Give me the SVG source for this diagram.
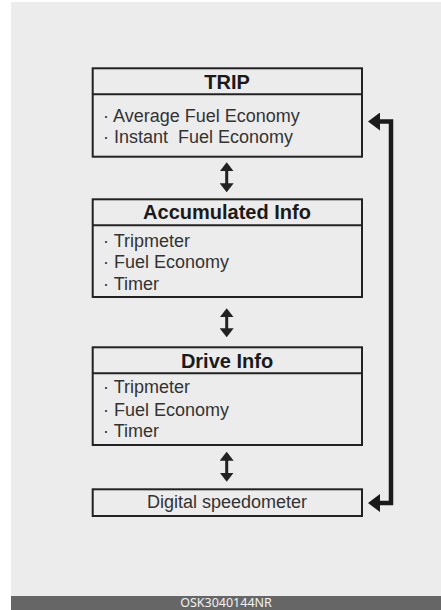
<svg xmlns="http://www.w3.org/2000/svg" width="441" height="610" viewBox="0 0 441 610">
<style>
.box{fill:none;stroke:#222;stroke-width:2}
.div{stroke:#222;stroke-width:2}
.title{font-family:"Liberation Sans",Arial,sans-serif;font-weight:bold;font-size:20px;fill:#1a1a1a;text-anchor:middle}
.body{font-family:"Liberation Sans",Arial,sans-serif;font-size:18px;fill:#333;white-space:pre}
.dbl{stroke:#222;stroke-width:3;fill:none}
.loop{stroke:#1a1a1a;stroke-width:4.5;fill:none;stroke-linejoin:miter}
</style>
<defs>
<marker id="sm" viewBox="0 0 10 10" refX="5" refY="5" markerWidth="9" markerHeight="14" markerUnits="userSpaceOnUse" preserveAspectRatio="none" orient="auto-start-reverse">
<path d="M0,0 L10,5 L0,10 z" fill="#222"/>
</marker>
<marker id="bm" viewBox="0 0 10 10" refX="5" refY="5" markerWidth="12" markerHeight="18" markerUnits="userSpaceOnUse" preserveAspectRatio="none" orient="auto-start-reverse">
<path d="M0,0 L10,5 L0,10 z" fill="#1a1a1a"/>
</marker>
</defs>
<rect x="0" y="0" width="441" height="610" fill="#fff"/>
<rect x="11" y="2" width="430" height="594" fill="#ececec"/>
<rect x="11" y="596" width="430" height="14" fill="#666"/>
<text x="226" y="607" font-family="'Noto Sans','Open Sans',sans-serif" font-size="12.5" fill="#f2f2f2" text-anchor="middle">OSK3040144NR</text>

<g id="trip">
<rect class="box" x="92.7" y="68.3" width="269.3" height="88.4"/>
<line class="div" x1="92.7" y1="94.3" x2="362" y2="94.3"/>
<text class="title" x="227" y="89">TRIP</text>
<text class="body" x="103" y="121.7">· Average Fuel Economy</text>
<text class="body" x="103" y="143.3" xml:space="preserve">· Instant  Fuel Economy</text>
</g>

<g id="accumulated">
<rect class="box" x="92.7" y="199.3" width="269.3" height="97.7"/>
<line class="div" x1="92.7" y1="225.3" x2="362" y2="225.3"/>
<text class="title" x="227" y="219.3">Accumulated Info</text>
<text class="body" x="103" y="246.7">· Tripmeter</text>
<text class="body" x="103" y="268.3">· Fuel Economy</text>
<text class="body" x="103" y="290">· Timer</text>
</g>

<g id="drive">
<rect class="box" x="92.7" y="347.3" width="269.3" height="97.7"/>
<line class="div" x1="92.7" y1="373.3" x2="362" y2="373.3"/>
<text class="title" x="227" y="367.7">Drive Info</text>
<text class="body" x="103" y="393.3">· Tripmeter</text>
<text class="body" x="103" y="416">· Fuel Economy</text>
<text class="body" x="103" y="436.7">· Timer</text>
</g>

<g id="speedo">
<rect class="box" x="92.7" y="489.3" width="269.3" height="26.7"/>
<text class="body" x="227" y="508.3" text-anchor="middle">Digital speedometer</text>
</g>

<g id="connectors">
<path class="dbl" d="M226.7,166.8 V187.8" marker-start="url(#sm)" marker-end="url(#sm)"/>
<path class="dbl" d="M226.7,312.8 V332.8" marker-start="url(#sm)" marker-end="url(#sm)"/>
<path class="dbl" d="M226.7,456.2 V477.2" marker-start="url(#sm)" marker-end="url(#sm)"/>
<path class="loop" d="M374,121.5 H391 V503 H374" marker-start="url(#bm)" marker-end="url(#bm)"/>
</g>
</svg>
